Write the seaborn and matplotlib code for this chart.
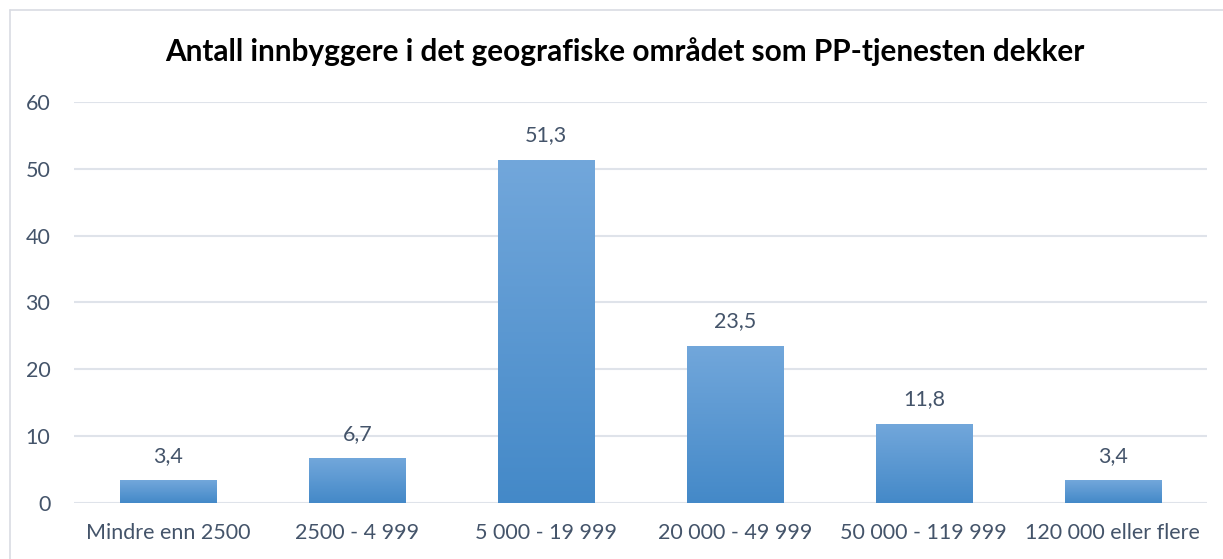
import numpy as np
import pandas as pd
import matplotlib as mpl
mpl.use("Agg")
import matplotlib.pyplot as plt
from matplotlib.lines import Line2D
from matplotlib.colors import LinearSegmentedColormap
import seaborn as sns

categories = ["Mindre enn 2500", "2500 - 4 999", "5 000 - 19 999",
              "20 000 - 49 999", "50 000 - 119 999", "120 000 eller flere"]
values = [3.4, 6.7, 51.3, 23.5, 11.8, 3.4]
title = "Antall innbyggere i det geografiske området som PP-tjenesten dekker"

TEXT_COLOR = "#44546a"
GRID_COLOR = "#dfe3ea"
BORDER_COLOR = "#d9dce3"
TOP_BLUE = "#72a7db"
BOTTOM_BLUE = "#4489c8"

sns.set_theme(style="white")
plt.rcParams["font.family"] = ["Lato", "DejaVu Sans"]

df = pd.DataFrame({"kategori": categories, "verdi": values})

fig = plt.figure(figsize=(12.23, 5.59), dpi=100)
ax = fig.add_axes([0.0605, 0.1002, 0.9265, 0.7174])

sns.barplot(data=df, x="kategori", y="verdi", ax=ax, color=BOTTOM_BLUE,
            width=0.51, saturation=1, zorder=2)

# gradient fill per bar (light top -> darker bottom)
grad_cmap = LinearSegmentedColormap.from_list("bar", [BOTTOM_BLUE, TOP_BLUE])
grad = np.linspace(0, 1, 256).reshape(-1, 1)
for p in ax.patches:
    x0, y0 = p.get_x(), p.get_y()
    w, h = p.get_width(), p.get_height()
    p.set_facecolor("none")
    p.set_edgecolor("none")
    im = ax.imshow(grad, cmap=grad_cmap, aspect="auto", origin="lower",
                   extent=[x0, x0 + w, y0, y0 + h], zorder=3)
    im.set_clip_path(p)

for i, v in enumerate(values):
    ax.annotate(f"{v:.1f}".replace(".", ","), (i, v), xytext=(0, 10.5),
                textcoords="offset points", ha="center", va="bottom",
                fontsize=15.5, color=TEXT_COLOR)

ax.set_xlim(-0.5, len(categories) - 0.5)
ax.set_ylim(0, 60)
ax.set_yticks(range(0, 61, 10))
ax.yaxis.grid(True, color=GRID_COLOR, linewidth=1.5, zorder=0)
ax.set_axisbelow(True)
for sp in ax.spines.values():
    sp.set_visible(False)
ax.set_xlabel("")
ax.set_ylabel("")
ax.tick_params(axis="both", length=0, labelsize=15.5, labelcolor=TEXT_COLOR)
ax.tick_params(axis="x", pad=14.5)
ax.tick_params(axis="y", pad=17)

fig.text(0.511, 0.908, title, ha="center", va="center",
         fontsize=21.4, fontweight="bold", color="black")

# chart border (left and top edges visible)
bx, by = 10 / 1223, 1 - 10 / 559
fig.add_artist(Line2D([bx, bx], [0, by], color=BORDER_COLOR, lw=1.2,
                      transform=fig.transFigure))
fig.add_artist(Line2D([bx, 1], [by, by], color=BORDER_COLOR, lw=1.2,
                      transform=fig.transFigure))

fig.savefig("out.png", dpi=100)
